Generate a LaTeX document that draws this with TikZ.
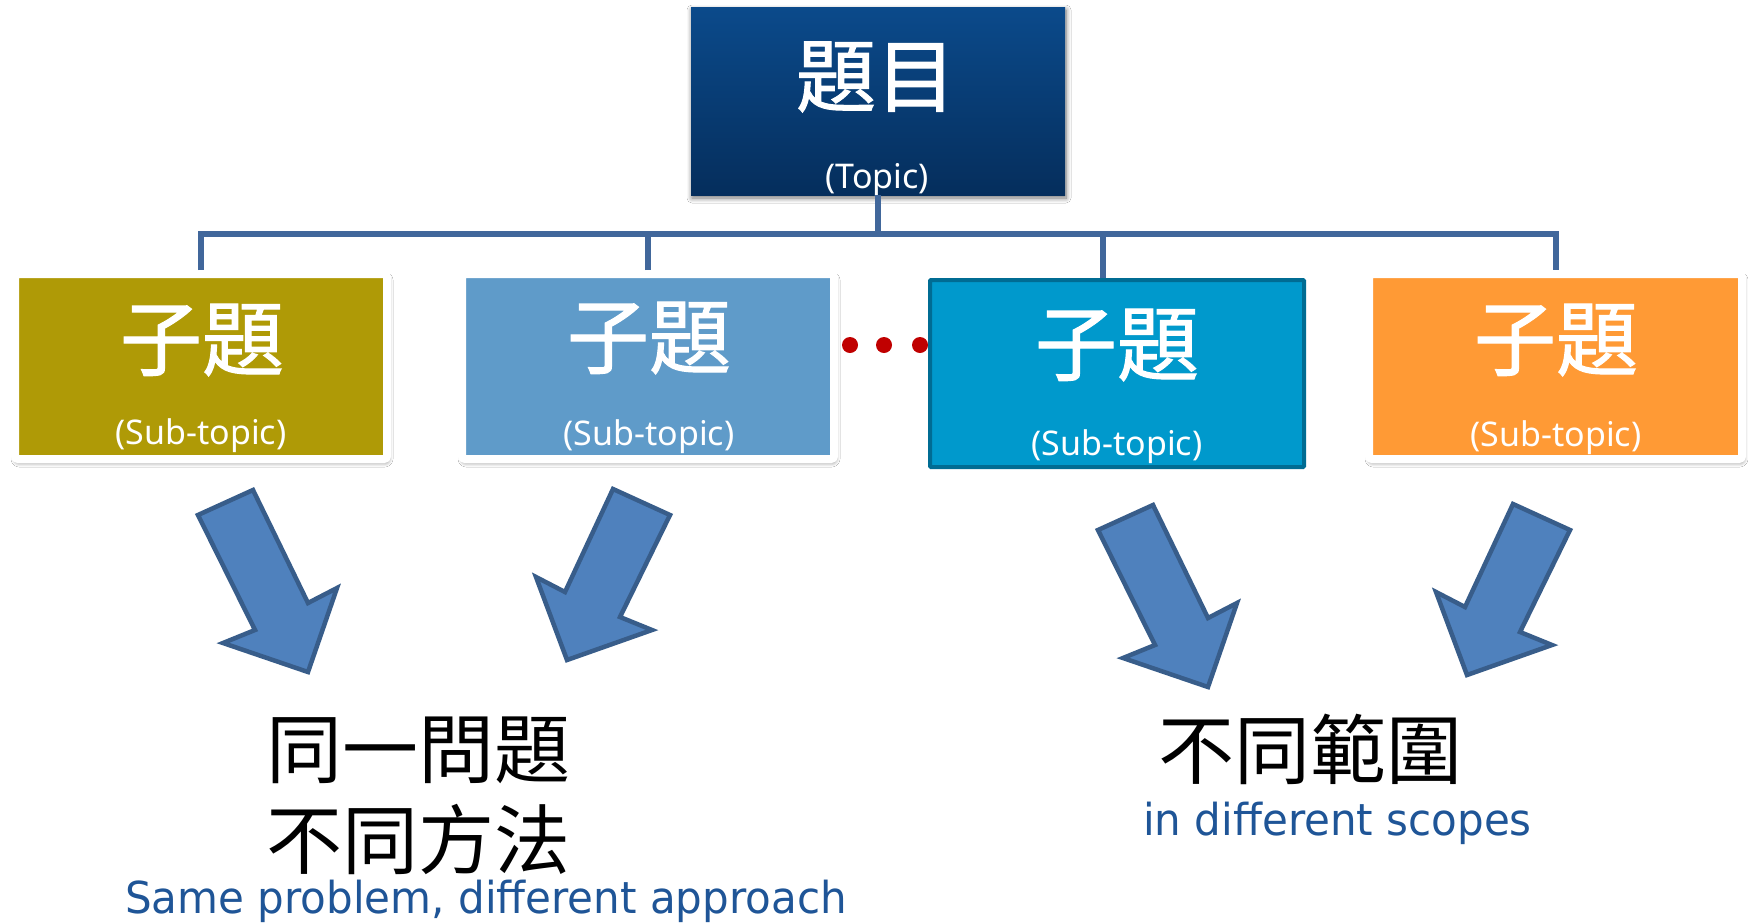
\documentclass[tikz,border=0pt]{standalone}
\usepackage{fontspec}
\setmainfont{Noto Sans}
\newfontfamily\cjkfont{Noto Sans CJK TC}
\newfontfamily\cjkboxfont[FakeBold=1.3]{Noto Sans CJK TC}
\newfontfamily\engfont[FakeStretch=0.955]{DejaVu Sans}
\usetikzlibrary{shadows.blur}

\definecolor{topictop}{HTML}{0B4A8B}
\definecolor{topicbot}{HTML}{052E5C}
\definecolor{subolive}{HTML}{AF9A06}
\definecolor{subsky}{HTML}{5F9BC9}
\definecolor{subcyan}{HTML}{0099CC}
\definecolor{subcyanline}{HTML}{006C93}
\definecolor{suborange}{HTML}{FF9A35}
\definecolor{conncol}{HTML}{41679B}
\definecolor{arrowfill}{HTML}{4F81BD}
\definecolor{arrowline}{HTML}{385D8A}
\definecolor{dotred}{HTML}{C00000}
\definecolor{engblue}{HTML}{1F5597}

\begin{document}
\begin{tikzpicture}[x=1pt, y=-1pt,
  softshadow/.style={blur shadow={shadow xshift=1pt, shadow yshift=-3pt, shadow opacity=55, shadow blur steps=8, shadow blur radius=5pt}},
  subbox/.style={draw=white, line width=8pt, rounded corners=3pt, inner sep=0pt,
    minimum width=372pt, minimum height=185pt, softshadow},
  framedbox/.style={draw=subcyanline, line width=4pt, rounded corners=1pt, inner sep=0pt,
    minimum width=374pt, minimum height=187pt},
  bigtitle/.style={font=\cjkboxfont\fontsize{82}{90}\selectfont, text=white, inner sep=0pt},
  caption/.style={font=\fontsize{34}{38}\selectfont, text=white, inner sep=0pt},
  conn/.style={draw=conncol, line width=6pt},
  bigarrow/.style={fill=arrowfill, draw=arrowline, line width=4.5pt, line join=miter},
  cjknote/.style={font=\cjkfont\fontsize{76}{89}\selectfont, inner sep=0pt, anchor=west},
  engnote/.style={font=\engfont\fontsize{44}{50}\selectfont, text=engblue, inner sep=0pt, anchor=base west}]
\fill[white] (0,0) rectangle (1748,922);
\useasboundingbox (0,0) rectangle (1748,922);

% Topic
\node[inner sep=0pt, minimum width=374pt, minimum height=188pt, top color=topictop, bottom color=topicbot, softshadow] (topic) at (878,101) {};
\node[bigtitle, font=\cjkboxfont\fontsize{80}{88}\selectfont] (topicname) at (876,77) {題目};
\node[caption] (topiccap) at (877,180) {(Topic)};

% Sub-topics
\node[subbox, fill=subolive] (sub1) at (201,366.5) {};
\node[subbox, fill=subsky] (sub2) at (648,366.5) {};
\node[framedbox, fill=subcyan] (sub3) at (1117,373.5) {};
\node[subbox, fill=suborange, minimum width=373pt] (sub4) at (1555.5,366.5) {};

\node[bigtitle] (sub1name) at (202,340) {子題};
\node[bigtitle] (sub2name) at (649,338) {子題};
\node[bigtitle] (sub3name) at (1117,345) {子題};
\node[bigtitle] (sub4name) at (1556,340) {子題};
\node[caption] (sub1cap) at (201,436) {(Sub-topic)};
\node[caption] (sub2cap) at (649,437) {(Sub-topic)};
\node[caption] (sub3cap) at (1117,447) {(Sub-topic)};
\node[caption] (sub4cap) at (1556,438) {(Sub-topic)};

% Connectors
\coordinate (bus) at (878,234);
\draw[conn] (sub1.north) |- (sub4.north |- bus) -- (sub4.north);
\draw[conn] (topic.south) -- (topic.south |- bus);
\draw[conn] (sub2.north) -- (sub2.north |- bus);
\draw[conn] ([xshift=-14pt]sub3.north) -- ([xshift=-14pt]sub3.north |- bus);

% dots
\foreach \x in {850,884,920}
  \fill[dotred] (\x,345) circle (8);

% Block arrows
\foreach \dx/\dy in {0/0, 900/15} {
  \draw[bigarrow, shift={(\dx,\dy)}] (198,515) -- (253,490) -- (308,603) -- (337,588) -- (308,672) -- (223,643) -- (255,630) -- cycle;
  \draw[bigarrow, shift={(\dx,\dy)}] (670,515) -- (613,489) -- (565,592) -- (536,577) -- (567,660) -- (652,630) -- (620,617) -- cycle;
}

% Notes
\node[cjknote] (same1) at (266,750) {同一問題};
\node[cjknote] (same2) at (266,839) {不同方法};
\node[engnote] (sameeng) at (125,913) {Same problem, different approach};
\node[cjknote] (scope1) at (1158,749) {不同範圍};
\node[engnote] (scopeeng) at (1143,835) {in different scopes};
\end{tikzpicture}
\end{document}
